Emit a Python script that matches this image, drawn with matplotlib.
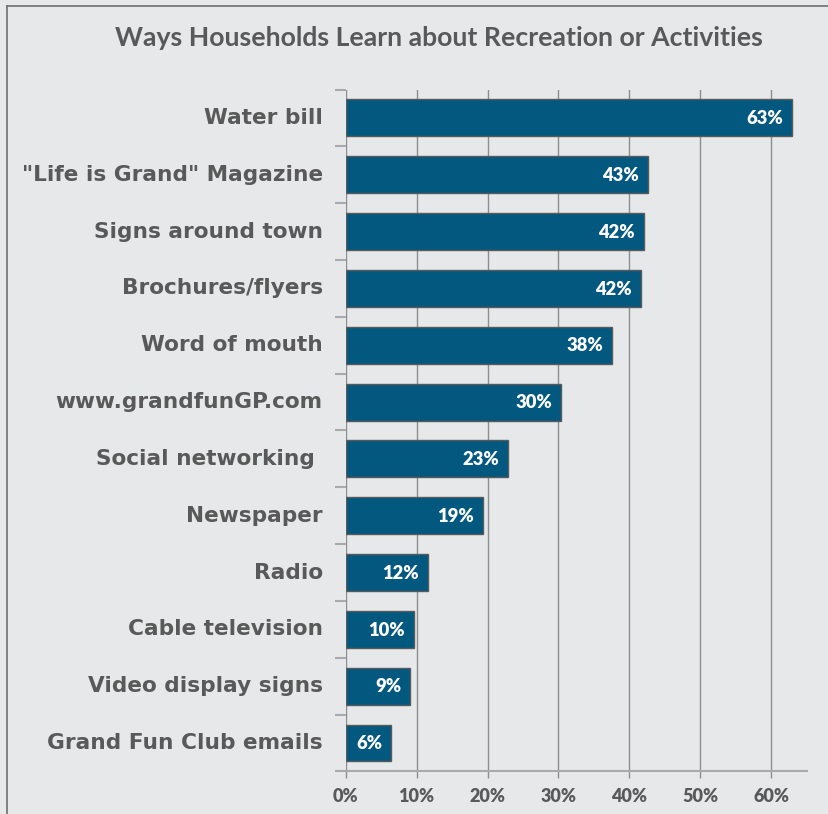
import matplotlib
matplotlib.use("Agg")
import matplotlib.pyplot as plt
from matplotlib.lines import Line2D
import numpy as np

# Survey results: share of households using each information source (%)
categories = [
    "Water bill",
    "\"Life is Grand\" Magazine",
    "Signs around town",
    "Brochures/flyers",
    "Word of mouth",
    "www.grandfunGP.com",
    "Social networking ",
    "Newspaper",
    "Radio",
    "Cable television",
    "Video display signs",
    "Grand Fun Club emails",
]
shares = [62.9, 42.6, 42.1, 41.6, 37.6, 30.4, 22.9, 19.4, 11.6, 9.6, 9.1, 6.4]
xticks = [0, 10, 20, 30, 40, 50, 60]
xtick_labels = ["0%", "10%", "20%", "30%", "40%", "50%", "60%"]
title = "Ways Households Learn about Recreation or Activities"

BG = "#E7E8EA"
BAR = "#03587F"
TEXT = "#595959"
GRID = "#8E8E8E"
NARROW = "Lato"
WIDE = "DejaVu Sans"

fig = plt.figure(figsize=(8.29, 8.14), dpi=100, facecolor=BG)
ax = fig.add_axes([0.417, 0.0523, 0.556, 0.8377], facecolor=BG)

n = len(categories)
y = np.arange(n)
ax.barh(y, shares, height=0.65, color=BAR, edgecolor="#5A5A5A",
        linewidth=1.0, zorder=3)

for yi, v in zip(y, shares):
    ax.annotate(f"{v:.0f}%", xy=(v, yi), xytext=(-6.5, -0.5),
                textcoords="offset points", ha="right", va="center",
                color="white", fontsize=13.2, fontweight="heavy",
                family=NARROW, zorder=4)

ax.set_xlim(0, 65)
ax.set_ylim(n - 0.5, -0.5)

ax.set_xticks(xticks)
ax.set_xticklabels(xtick_labels, fontsize=13, fontweight="heavy",
                   color=TEXT, family=NARROW)
ax.tick_params(axis="x", length=5, width=1, color=GRID, pad=7)
ax.xaxis.grid(True, color=GRID, linewidth=1.0, zorder=0)

# category labels as text; ticks at the category boundaries
ax.set_yticks(np.arange(-0.5, n, 1.0))
ax.set_yticklabels([])
ax.tick_params(axis="y", length=8, width=1.5, color="#AAAAAA")
for yi, lab in zip(y, categories):
    ax.annotate(lab, xy=(0, yi), xycoords=ax.get_yaxis_transform(),
                xytext=(-16.5, 0), textcoords="offset points",
                ha="right", va="center", fontsize=15.6, fontweight="bold",
                color=TEXT, family=WIDE)

for side in ("top", "right", "left"):
    ax.spines[side].set_visible(False)
ax.spines["bottom"].set_color("#AAAAAA")
ax.spines["bottom"].set_linewidth(1.5)

fig.text(0.5295, 1 - 37.5 / 814, title, ha="center", va="center",
         fontsize=19.2, fontweight="bold", color=TEXT, family=NARROW)

# outer frame (top and left edges)
fig.add_artist(Line2D([7 / 829, 1], [1 - 6 / 814, 1 - 6 / 814],
                      transform=fig.transFigure, color="#6E6E6E", lw=1.2))
fig.add_artist(Line2D([7 / 829, 7 / 829], [0, 1 - 6 / 814],
                      transform=fig.transFigure, color="#6E6E6E", lw=1.2))

fig.savefig("out.png", dpi=100, facecolor=BG)
